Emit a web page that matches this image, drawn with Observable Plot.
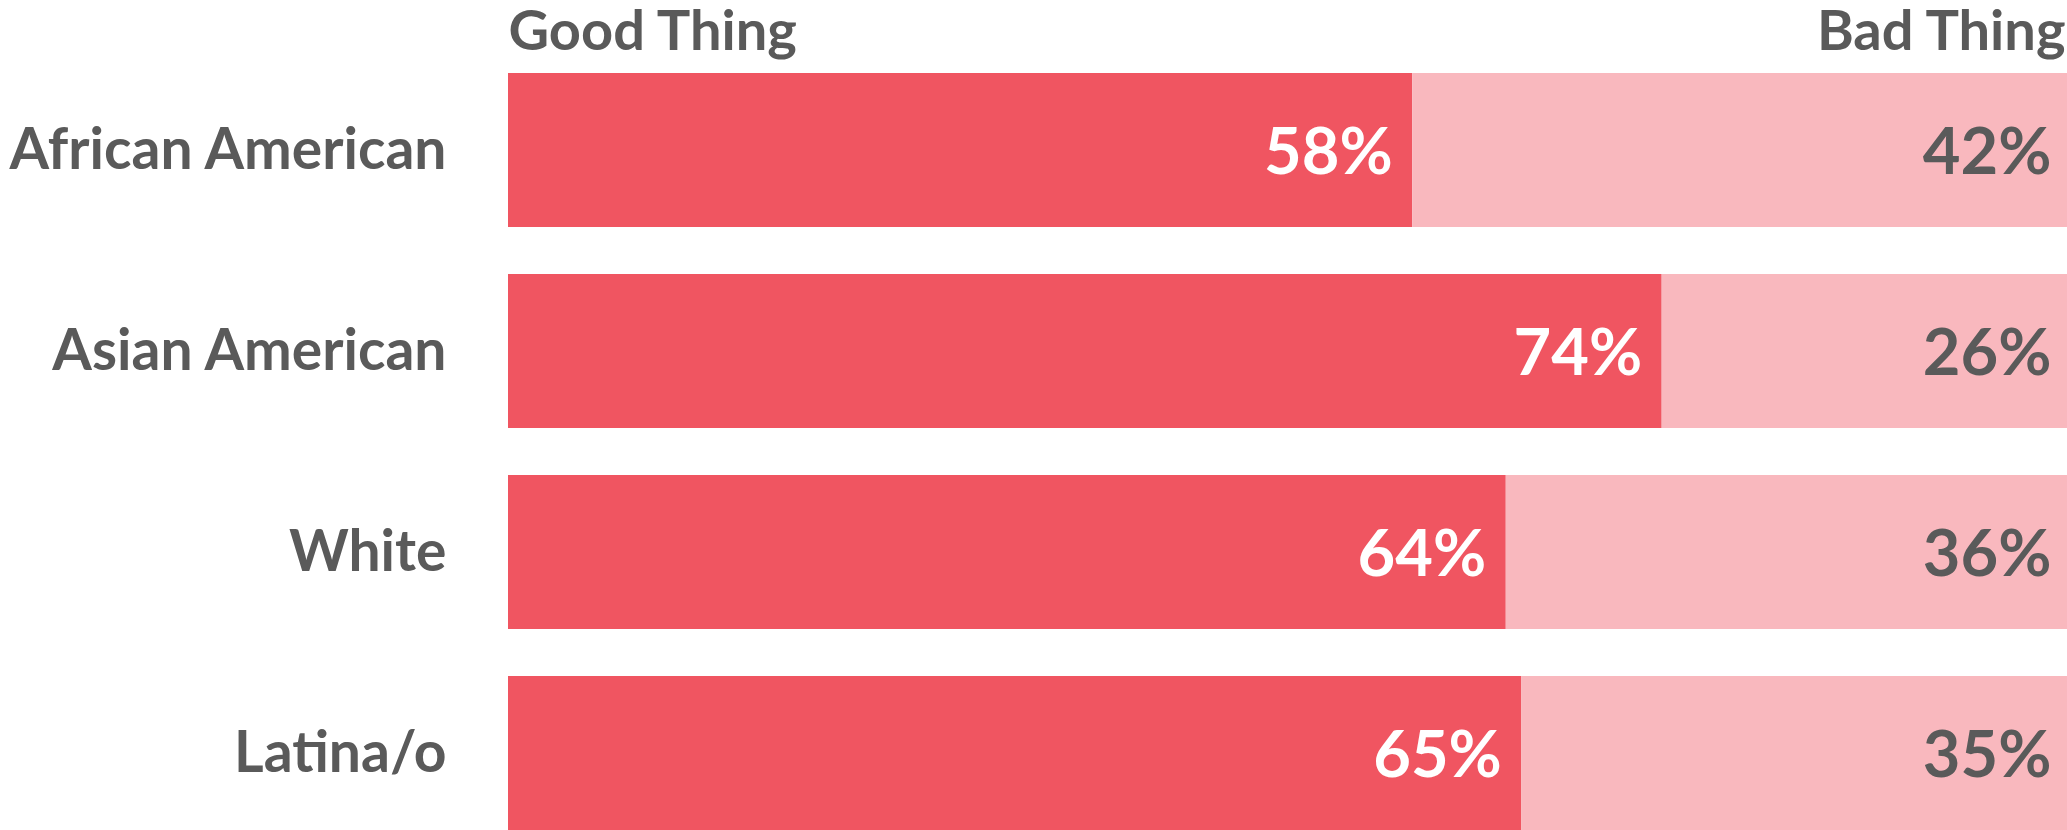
<!DOCTYPE html>
<html>
<head>
<meta charset="utf-8">
<script src="https://cdn.jsdelivr.net/npm/d3@7"></script>
<script src="https://cdn.jsdelivr.net/npm/@observablehq/plot@0.6"></script>
<style>
  html, body { margin: 0; padding: 0; background: #ffffff; overflow: hidden; }
  #chart svg { display: block; }
</style>
</head>
<body>
<div id="chart"></div>
<script>
const categories = ["African American", "Asian American", "White", "Latina/o"];
const goodValues = [58, 74, 64, 65];
const badValues = [42, 26, 36, 35];
const headerLabels = ["Good Thing", "Bad Thing"];

const rows = categories.map((c, i) => ({group: c, good: goodValues[i], bad: badValues[i]}));

const textColor = "#5a5a5a";
const red = "#f05561";
const pink = "#f9b8be";

const chart = Plot.plot({
  width: 2067,
  height: 830,
  marginLeft: 508,
  marginRight: 0,
  marginTop: 71,
  marginBottom: 0,
  style: {fontFamily: "Lato, 'Open Sans', sans-serif", background: "#ffffff", overflow: "visible"},
  x: {domain: [0, 100], axis: null},
  y: {domain: categories, range: [71, 831], paddingInner: 0.235, paddingOuter: 0, label: null},
  marks: [
    Plot.barX(rows, {y: "group", x1: 0, x2: "good", fill: red}),
    Plot.barX(rows, {y: "group", x1: "good", x2: 100, fill: pink}),
    Plot.text(rows, {
      y: "group", x: "good", text: d => d.good + "%",
      textAnchor: "end", dx: -20, dy: 3, fill: "#ffffff",
      fontSize: 65, fontWeight: 700
    }),
    Plot.text(rows, {
      y: "group", x: 100, text: d => d.bad + "%",
      textAnchor: "end", dx: -16, dy: 3, fill: textColor,
      fontSize: 65, fontWeight: 700
    }),
    Plot.axisY({
      tickSize: 0, tickPadding: 62, fontSize: 57, fontWeight: 700,
      fill: textColor, label: null
    }),
    Plot.text([headerLabels[0]], {
      frameAnchor: "top-left", text: d => d, textAnchor: "start",
      lineAnchor: "bottom", dy: -22, fill: textColor, fontSize: 56, fontWeight: 700
    }),
    Plot.text([headerLabels[1]], {
      frameAnchor: "top-right", text: d => d, textAnchor: "end",
      lineAnchor: "bottom", dy: -22, dx: -2, fill: textColor, fontSize: 56, fontWeight: 700
    })
  ]
});
document.getElementById("chart").appendChild(chart);
</script>
</body>
</html>
